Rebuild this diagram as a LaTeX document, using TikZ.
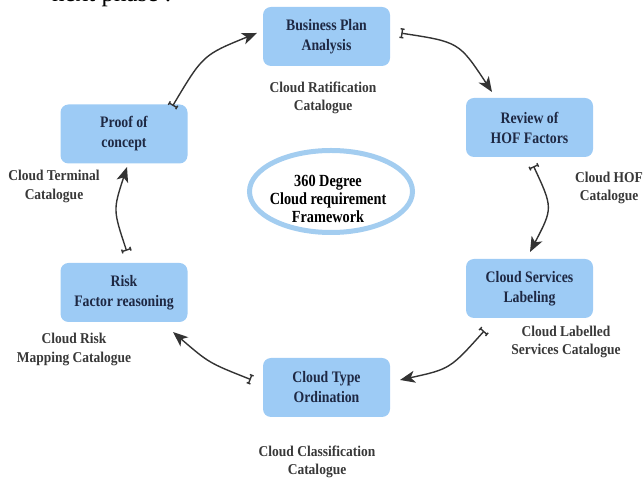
\documentclass[tikz,border=0pt]{standalone}
\usepackage{fontspec}
\setmainfont{Liberation Serif}
\newfontfamily\boxfont{Liberation Serif}[FakeStretch=0.86]
\newfontfamily\catfont{Liberation Serif}[FakeStretch=0.9]
\newfontfamily\ellfont{Liberation Serif}[FakeStretch=0.84]
\usetikzlibrary{arrows.meta,shapes.geometric}
\definecolor{boxblue}{HTML}{9DCBF5}
\definecolor{ringblue}{HTML}{A3CDF0}
\definecolor{navy}{HTML}{1E2843}
\definecolor{catgray}{HTML}{383838}
\definecolor{arrowgray}{HTML}{333333}
\tikzset{
  stepbox/.style={draw=none, fill=boxblue, rounded corners=8pt, minimum width=127pt,
    minimum height=59pt, align=center, text=navy,
    font=\boxfont\bfseries\fontsize{16}{20}\selectfont},
  cattext/.style={align=center, text=catgray, font=\catfont\bfseries\fontsize{15}{18.5}\selectfont},
  flow/.style={draw=arrowgray, line width=1.4pt,
    arrows={Tee Barb[length=4pt,width=10pt]-Stealth[length=15pt,width=12pt,inset=4pt]}}
}
\begin{document}
\begin{tikzpicture}[x=1pt,y=1pt]
\useasboundingbox (0,0) rectangle (644,478);
% cut-off text of the page above
\node[anchor=base west, inner sep=0pt, font=\fontsize{25}{25}\selectfont] (head) at (52,476.5) {next phase :};
% boxes
\node[stepbox] (bpa) at (326.5,441.5) {Business Plan\\Analysis};
\node[stepbox] (rev) at (529.5,350.5) {Review of\\HOF Factors};
\node[stepbox] (svc) at (529.5,189.5) {Cloud Services\\Labeling};
\node[stepbox] (typ) at (326.5,90.5) {Cloud Type\\Ordination};
\node[stepbox] (risk) at (124,185.5) {Risk\\Factor reasoning};
\node[stepbox] (poc) at (124,344) {Proof of\\concept};
% catalogue labels
\node[cattext] (ratcat) at (323,380) {Cloud Ratification\\Catalogue};
\node[cattext] (hofcat) at (609,290) {Cloud HOF\\Catalogue};
\node[cattext] (labcat) at (566,136) {Cloud Labelled\\Services Catalogue};
\node[cattext] (clscat) at (317,16) {Cloud Classification\\Catalogue};
\node[cattext] (riskcat) at (74,128.5) {Cloud Risk\\Mapping Catalogue};
\node[cattext] (termcat) at (54,291.5) {Cloud Terminal\\Catalogue};
% central ellipse
\node[ellipse, draw=ringblue, line width=5pt, minimum width=163pt, minimum height=82pt] (ring) at (331,286.5) {};
\node[align=center, text=black, font=\ellfont\bfseries\fontsize{17}{18}\selectfont] (title) at (328,279) {360 Degree\\Cloud requirement\\Framework};
% connector ends
\coordinate (s1) at (400,445); \coordinate (e1) at (492,386);
\coordinate (s2) at (533,313); \coordinate (e2) at (530,226);
\coordinate (s3) at (485,148); \coordinate (e3) at (400,98);
\coordinate (s4) at (252,98);  \coordinate (e4) at (173,146);
\coordinate (s5) at (127,226); \coordinate (e5) at (127,311);
\coordinate (s6) at (172,371); \coordinate (e6) at (257,445);
\draw[flow] (s1) .. controls (459,436) .. (e1);
\draw[flow] (s2) .. controls (553,270) .. (e2);
\draw[flow] (s3) .. controls (450,109) .. (e3);
\draw[flow] (s4) .. controls (209,115) .. (e4);
\draw[flow] (s5) .. controls (113,268) .. (e5);
\draw[flow] (s6) .. controls (203,423) .. (e6);
\end{tikzpicture}
\end{document}
